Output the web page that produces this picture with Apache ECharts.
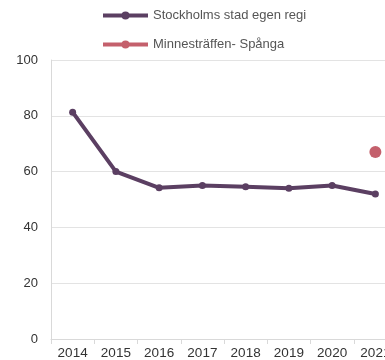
<!DOCTYPE html>
<html>
<head>
<meta charset="utf-8">
<style>
  html, body { margin: 0; padding: 0; background: #fff; }
  #chart { width: 385px; height: 360px; }
</style>
<script src="https://cdn.jsdelivr.net/npm/echarts@6/dist/echarts.min.js"></script>
</head>
<body>
<div id="chart"></div>
<script>
// Years on the category axis
const years = ['2014', '2015', '2016', '2017', '2018', '2019', '2020', '2021'];
// City-run (egen regi) values per year
const egenRegi = [81.3, 60, 54.2, 55, 54.6, 54, 55, 52];
// Single unit value, only reported for the last year
const minnestraffen = [null, null, null, null, null, null, null, 67];
// Value-axis range and step
const yMin = 0, yMax = 100, yStep = 20;

const purple = '#5b3f62';
const rose = '#c4606c';
const font = 'Liberation Sans, Arial, sans-serif';

const chart = echarts.init(document.getElementById('chart'), null, { renderer: 'canvas' });
chart.setOption({
  animation: false,
  legend: {
    orient: 'vertical',
    left: 96,
    top: 3,
    itemWidth: 45,
    itemHeight: 10,
    itemGap: 14,
    lineStyle: { width: 4 },
    textStyle: { fontFamily: font, fontSize: 13, color: '#555', lineHeight: 15 },
    data: ['Stockholms stad egen regi', 'Minnesträffen- Spånga']
  },
  grid: {
    left: 51, top: 60, height: 279, width: 346,
    containLabel: false,
    outerBoundsMode: 'none'
  },
  xAxis: {
    type: 'category',
    data: years,
    boundaryGap: true,
    axisLine: { lineStyle: { color: '#d9d9d9', width: 1 } },
    axisTick: { show: true, length: 5, lineStyle: { color: '#d9d9d9' } },
    axisLabel: { fontFamily: font, fontSize: 13.5, color: '#333', margin: 7, interval: 0, hideOverlap: false }
  },
  yAxis: {
    type: 'value',
    min: yMin,
    max: yMax,
    interval: yStep,
    axisLine: { show: true, lineStyle: { color: '#d9d9d9' } },
    axisTick: { show: false },
    splitLine: { lineStyle: { color: '#e3e3e3' } },
    axisLabel: { fontFamily: font, fontSize: 13, color: '#333', margin: 13 }
  },
  series: [
    {
      name: 'Stockholms stad egen regi',
      type: 'line',
      data: egenRegi,
      symbol: 'circle',
      symbolSize: 7,
      itemStyle: { color: purple },
      lineStyle: { color: purple, width: 4 }
    },
    {
      name: 'Minnesträffen- Spånga',
      type: 'line',
      data: minnestraffen,
      symbol: 'circle',
      symbolSize: 12,
      itemStyle: { color: rose },
      lineStyle: { color: rose, width: 4 }
    }
  ]
});
</script>
</body>
</html>
